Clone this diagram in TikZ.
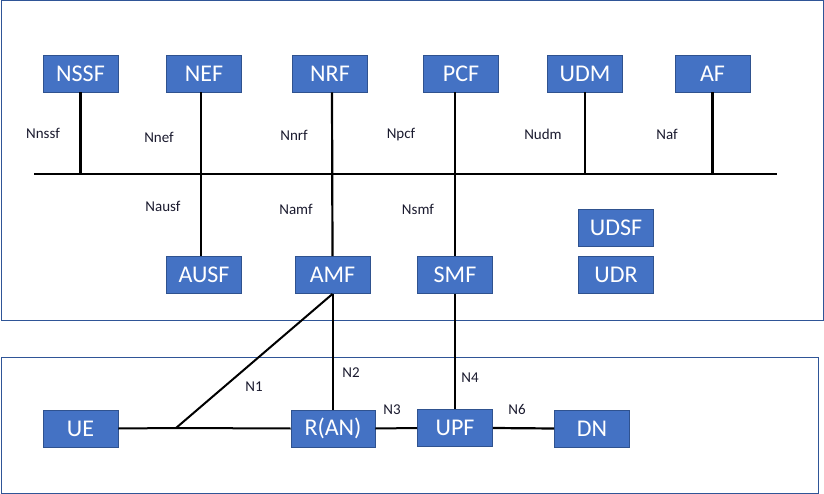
\documentclass[tikz,border=0pt]{standalone}
\usepackage{fontspec}
\setmainfont{Carlito}
\definecolor{boxblue}{HTML}{4472C4}
\definecolor{boxedge}{HTML}{2F528F}
\definecolor{frameblue}{HTML}{2F5597}
\definecolor{lbl}{HTML}{1A1A2E}
\begin{document}
\begin{tikzpicture}[x=1pt,y=-1pt,
  nf/.style={rectangle,fill=boxblue,draw=boxedge,line width=0.9pt,minimum width=75pt,minimum height=37pt,inner sep=0pt,text=white,font=\fontsize{24}{24}\selectfont},
  lab/.style={inner sep=0pt,text=lbl,font=\fontsize{15}{15}\selectfont},
  link/.style={draw=black,line width=2.2pt},
  thin/.style={draw=black,line width=2pt},
  frame/.style={draw=frameblue,line width=1pt}]
\useasboundingbox (0,0) rectangle (824,494);
% frames
\node[frame,rectangle,minimum width=822pt,minimum height=319pt,inner sep=0pt,anchor=north west] (core) at (0.5,0.5) {};
\node[frame,rectangle,minimum width=817pt,minimum height=136pt,inner sep=0pt,anchor=north west] (access) at (0.5,357) {};
% top row
\node[nf] (NSSF) at (80.5,73.5) {NSSF};
\node[nf] (NEF) at (204,73.5) {NEF};
\node[nf] (NRF) at (330,73.5) {NRF};
\node[nf] (PCF) at (461,73.5) {PCF};
\node[nf] (UDM) at (585,73.5) {UDM};
\node[nf] (AF) at (712.5,73.5) {AF};
% bottom row of core
\node[nf] (AUSF) at (204,275) {AUSF};
\node[nf] (AMF) at (332.5,275) {AMF};
\node[nf] (SMF) at (455,275) {SMF};
\node[nf] (UDSF) at (616,228) {UDSF};
\node[nf] (UDR) at (616,275) {UDR};
% access row
\node[nf] (UE) at (80.5,428.5) {UE};
\node[nf,minimum width=84pt] (RAN) at (333,428.5) {R(AN)};
\node[nf] (UPF) at (455,428) {UPF};
\node[nf] (DN) at (592,428.5) {DN};
% bus
\coordinate (busL) at (34,174);
\coordinate (busR) at (777,174);
\draw[link] (busL) -- (busR);
\draw[link] (NSSF.south) -- (NSSF.south |- busL);
\draw[link] ([xshift=-3pt]NEF.south) -- ([xshift=-3pt]AUSF.north);
\draw[link] ([xshift=2pt]NRF.south) -- (AMF.north);
\draw[link] (SMF.north |- PCF.south) -- (SMF.north);
\draw[link] (UDM.south) -- (UDM.south |- busL);
\draw[link] (AF.south) -- (AF.south |- busL);
% access links
\coordinate (junc) at (176,428);
\draw[thin] (UE.east) -- (junc) -- (RAN.west);
\draw[thin] (junc) -- (AMF.south);
\draw[thin] (AMF.south) -- (AMF.south |- RAN.north);
\draw[thin] (RAN.east) -- (UPF.west);
\draw[link] (SMF.south) -- (UPF.north);
\draw[link] (UPF.east) -- (DN.west);
% labels
\node[lab] (lNnssf) at (43,133) {Nnssf};
\node[lab] (lNnef) at (159,137) {Nnef};
\node[lab] (lNnrf) at (294,135) {Nnrf};
\node[lab] (lNpcf) at (401,135) {Npcf};
\node[lab] (lNudm) at (543,134) {Nudm};
\node[lab] (lNaf) at (667,134) {Naf};
\node[lab] (lNausf) at (163,206) {Nausf};
\node[lab] (lNamf) at (296,209) {Namf};
\node[lab] (lNsmf) at (418,209) {Nsmf};
\node[lab] (lN1) at (254,387) {N1};
\node[lab] (lN2) at (351,373) {N2};
\node[lab] (lN3) at (392,410) {N3};
\node[lab] (lN4) at (470,378) {N4};
\node[lab] (lN6) at (517,409) {N6};
\end{tikzpicture}
\end{document}
